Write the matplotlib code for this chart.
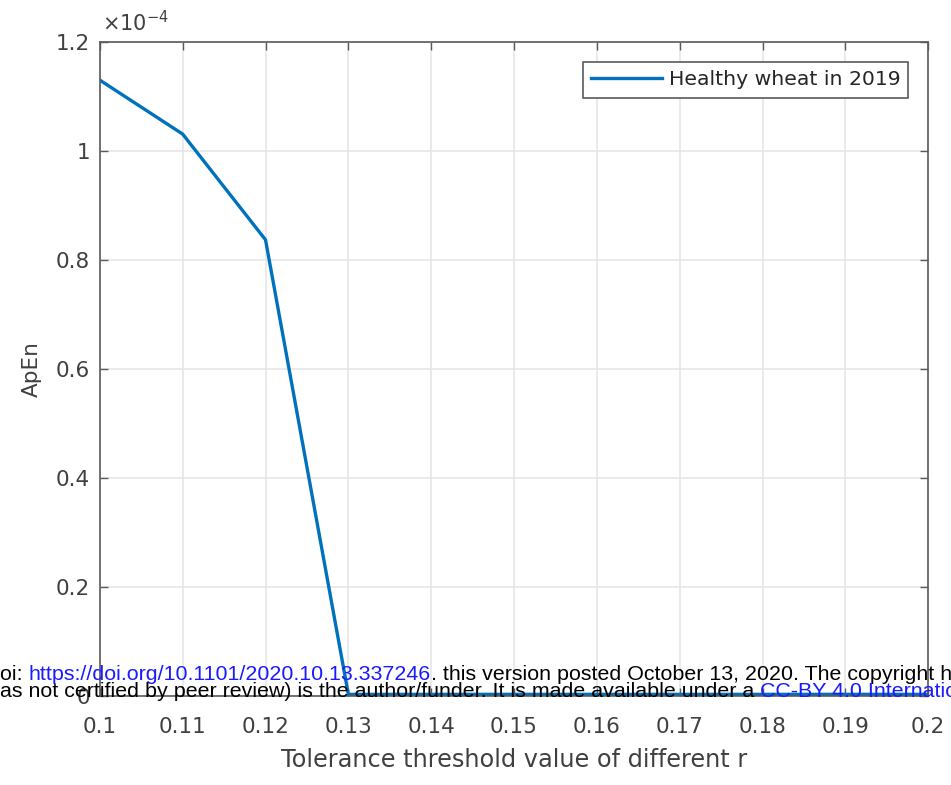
#!/usr/bin/env python3
"""ApEn versus tolerance threshold r for healthy wheat (2019)."""

import matplotlib

matplotlib.use("Agg")
import matplotlib.pyplot as plt
from matplotlib.ticker import FixedLocator, FuncFormatter


R_VALUES = [0.10, 0.11, 0.12, 0.13, 0.14, 0.15, 0.16, 0.17, 0.18, 0.19, 0.20]
APEN = [1.130e-4, 1.031e-4, 0.837e-4, 0.003e-4, 0.003e-4, 0.003e-4,
        0.003e-4, 0.003e-4, 0.003e-4, 0.003e-4, 0.003e-4]
X_TICKS = R_VALUES
Y_TICKS = [0.0, 0.2e-4, 0.4e-4, 0.6e-4, 0.8e-4, 1.0e-4, 1.2e-4]
SERIES_LABEL = "Healthy wheat in 2019"

WATERMARK_1 = [("oi: ", "black"),
               ("https://doi.org/10.1101/2020.10.13.337246", "#1a1aff"),
               (". this version posted October 13, 2020. The copyright h",
                "black")]
WATERMARK_2 = [("as not certified by peer review) is the author/funder. "
                "It is made available under a ", "black"),
               ("CC-BY 4.0 Internatio", "#1a1aff")]

LINE_COLOR = "#0072BD"
AXIS_COLOR = "#5a5a5a"
TEXT_COLOR = "#404040"

plt.rcParams["font.family"] = ["DejaVu Sans"]


def draw_watermark(fig, renderer):
  for parts, ypix in ((WATERMARK_1, 680), (WATERMARK_2, 697)):
    x = 0.0
    for chunk, color in parts:
      t = fig.text(x, 1 - ypix / 785, chunk, fontsize=15.4, color=color,
                   va="baseline", family=["Liberation Sans", "DejaVu Sans"])
      bb = t.get_window_extent(renderer=renderer)
      x += bb.width / fig.bbox.width


def main():
  fig = plt.figure(figsize=(9.51, 7.85), dpi=100)
  ax = fig.add_axes([0.105, 0.1134, 0.871, 0.8331])

  ax.plot(R_VALUES, APEN, color=LINE_COLOR, linewidth=2.4, label=SERIES_LABEL)

  ax.set_xlim(0.1, 0.2)
  ax.set_ylim(0, 1.2e-4)
  ax.xaxis.set_major_locator(FixedLocator(X_TICKS))
  ax.yaxis.set_major_locator(FixedLocator(Y_TICKS))
  ax.xaxis.set_major_formatter(FuncFormatter(lambda v, _: f"{v:g}"))
  ax.yaxis.set_major_formatter(
      FuncFormatter(lambda v, _: "0" if v == 0 else f"{v * 1e4:g}"))

  ax.grid(True, color="#e6e6e6", linewidth=1.2)
  ax.set_axisbelow(True)
  ax.tick_params(direction="in", top=True, right=True, length=6,
                 width=1.0, colors=AXIS_COLOR, labelcolor=TEXT_COLOR,
                 labelsize=15.5)
  ax.tick_params(axis="x", pad=15)
  ax.tick_params(axis="y", pad=7)
  for spine in ax.spines.values():
    spine.set_color(AXIS_COLOR)
    spine.set_linewidth(1.2)

  ax.set_xlabel("Tolerance threshold value of different r", fontsize=17.3,
                color=TEXT_COLOR, labelpad=8)
  ax.set_ylabel("ApEn", fontsize=15.5, color=TEXT_COLOR, labelpad=10)
  ax.text(0.003, 1.01, r"$\times 10^{-4}$", transform=ax.transAxes,
          ha="left", va="bottom", fontsize=15, color=TEXT_COLOR,
          math_fontfamily="dejavusans")

  leg = ax.legend(loc="upper right", bbox_to_anchor=(0.976, 0.969),
                  borderaxespad=0, fontsize=14.7, frameon=True, fancybox=False,
                  handlelength=3.5, borderpad=0.4, handletextpad=0.3)
  leg.get_frame().set_edgecolor(AXIS_COLOR)
  leg.get_frame().set_linewidth(1.2)
  leg.get_frame().set_alpha(1.0)
  for text in leg.get_texts():
    text.set_color("#262626")

  # preprint watermark that sits over the bottom of the plot
  draw_watermark(fig, fig.canvas.get_renderer())

  fig.savefig("out.png", dpi=100)


if __name__ == "__main__":
  main()
